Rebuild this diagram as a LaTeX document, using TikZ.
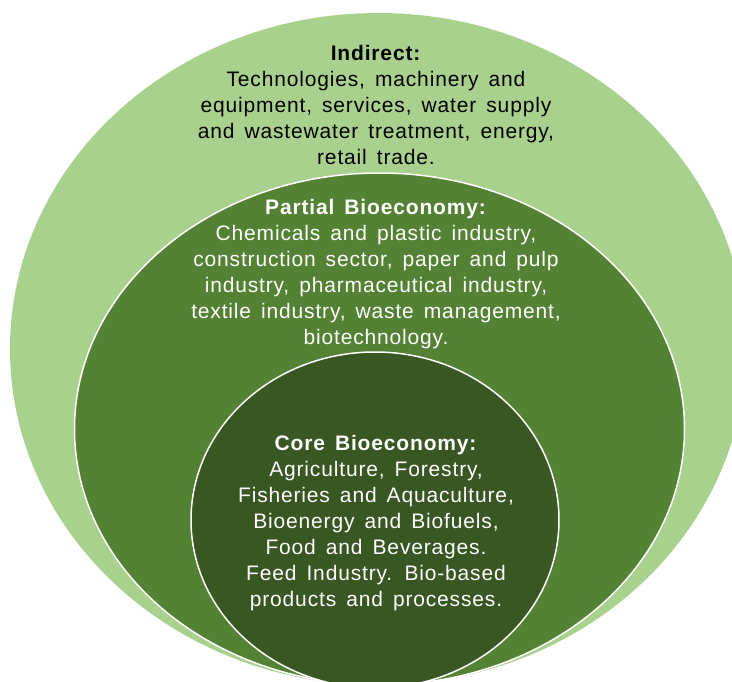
\documentclass[tikz,border=0pt]{standalone}
\usepackage{fontspec}
\setmainfont{Liberation Sans}[LetterSpace=4, WordSpace=1.5]
\usetikzlibrary{shapes.geometric}
\definecolor{lightg}{HTML}{A9D18E}
\definecolor{midg}{HTML}{548235}
\definecolor{darkg}{HTML}{385723}
\tikzset{
  ring/.style={ellipse, inner sep=0pt, outer sep=0pt},
  lbl/.style={align=center, inner sep=0pt, font=\fontsize{21}{26}\selectfont},
}
\begin{document}
\begin{tikzpicture}[x=1pt,y=-1pt]
\useasboundingbox (0,0) rectangle (732,682);
\clip (0,0) rectangle (732,682);
\fill[white] (0,0) rectangle (732,682);
\node[ring, fill=lightg, minimum width=736pt, minimum height=672pt] (outer) at (378,349) {};
\node[ring, fill=midg, draw=white, line width=1.5pt, minimum width=610pt, minimum height=512pt] (middle) at (379.5,429) {};
\node[ring, fill=darkg, draw=white, line width=1.5pt, minimum width=368pt, minimum height=336pt] (inner) at (375,520) {};
\node[lbl, text=black, anchor=north] (tind) at (376,45) {\textbf{Indirect:}\\Technologies, machinery and\\equipment, services, water supply\\and wastewater treatment, energy,\\retail trade.};
\node[lbl, text=white, anchor=north] (tpart) at (376,199.5) {\textbf{Partial Bioeconomy:}\\Chemicals and plastic industry,\\construction sector, paper and pulp\\industry, pharmaceutical industry,\\textile industry, waste management,\\biotechnology.};
\node[lbl, text=white, anchor=north] (tcore) at (376,435) {\textbf{Core Bioeconomy:}\\Agriculture, Forestry,\\Fisheries and Aquaculture,\\Bioenergy and Biofuels,\\Food and Beverages.\\Feed Industry. Bio-based\\products and processes.};
\end{tikzpicture}
\end{document}
